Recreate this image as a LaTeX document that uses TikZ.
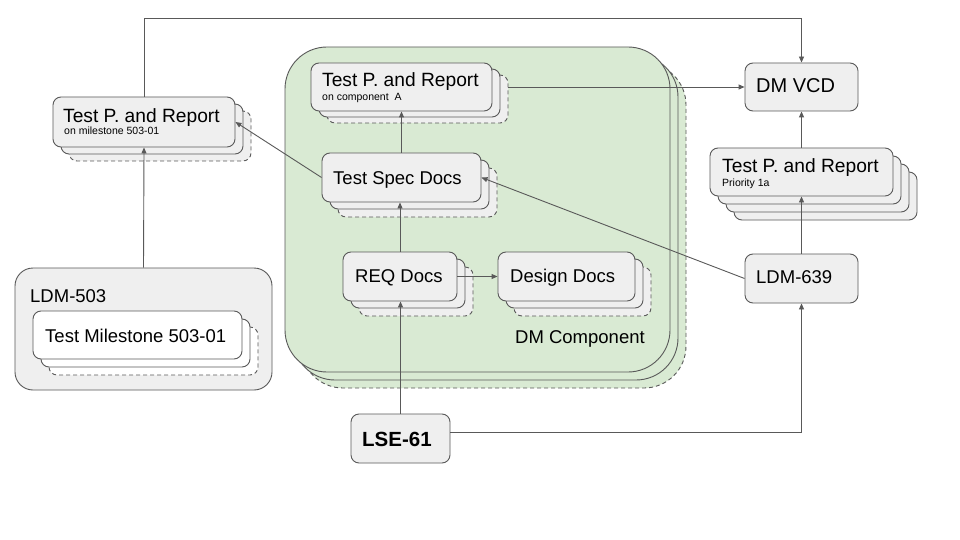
\documentclass[tikz,border=0pt]{standalone}
\usepackage{fontspec}
\setmainfont{Liberation Sans}
\usetikzlibrary{arrows.meta}
\definecolor{boxfill}{HTML}{EFEFEF}
\definecolor{lineg}{HTML}{595959}
\definecolor{greenfill}{HTML}{D9EAD3}
\begin{document}
\begin{tikzpicture}[x=1pt,y=-1pt,
 gbox/.style={draw=lineg, line width=0.9pt, fill=boxfill, rounded corners=8pt, inner sep=0pt},
 wbox/.style={gbox, fill=white},
 cbox/.style={draw=lineg, line width=0.9pt, fill=greenfill, rounded corners=42pt, inner sep=0pt},
 dsh/.style={dash pattern=on 4pt off 3pt},
 conn/.style={draw=lineg, line width=0.9pt, -{Triangle[length=6pt,width=5pt]}},
 ttl/.style={font=\fontsize{18.5}{20}\selectfont, inner sep=0pt, anchor=base west},
 ttlp/.style={font=\fontsize{19.2}{21}\selectfont, inner sep=0pt, anchor=base west},
 sub/.style={font=\fontsize{10.5}{12}\selectfont, inner sep=0pt, anchor=base west},
 ttlb/.style={font=\fontsize{20}{22}\selectfont, inner sep=0pt, anchor=base west}]
\fill[white] (0,0) rectangle (960,540);
\useasboundingbox (0,0) rectangle (960,540);

% DM component stack
\node[cbox, dsh, minimum width=385pt, minimum height=325pt] (dm3) at (493.5,225.5) {};
\node[cbox, minimum width=385pt, minimum height=325pt] (dm2) at (485.5,217.5) {};
\node[cbox, minimum width=385pt, minimum height=325pt] (dm) at (477.5,209.5) {};
\node[ttl] (dmt) at (515,343) {DM Component};

% Test P. milestone stack
\node[gbox, dsh, minimum width=182pt, minimum height=50pt] (tpm3) at (160,136) {};
\node[gbox, minimum width=182pt, minimum height=50pt] (tpm2) at (152,129) {};
\node[gbox, minimum width=182pt, minimum height=50pt] (tpm) at (144,122) {};
\node[ttlp] (tpmt) at (63,123) {Test P. and Report};
\node[sub] (tpms) at (64,135) {on milestone 503-01};

% Test P. component A stack
\node[gbox, dsh, minimum width=181pt, minimum height=48pt] (ca3) at (417.5,99) {};
\node[gbox, minimum width=181pt, minimum height=48pt] (ca2) at (409.5,93) {};
\node[gbox, minimum width=181pt, minimum height=48pt] (ca) at (401.5,87) {};
\node[ttlp] (cat) at (322,87) {Test P. and Report};
\node[sub] (cas) at (322,101) {on component\ \ A};

% Test Spec Docs stack
\node[gbox, dsh, minimum width=159pt, minimum height=49pt] (tsd3) at (417.5,192.5) {};
\node[gbox, minimum width=159pt, minimum height=49pt] (tsd2) at (409.5,184.5) {};
\node[gbox, minimum width=159pt, minimum height=49pt] (tsd) at (401.5,177.5) {};
\node[ttl] (tsdt) at (333,185) {Test Spec Docs};

% REQ Docs stack
\node[gbox, dsh, minimum width=114pt, minimum height=49pt] (req3) at (416,291.5) {};
\node[gbox, minimum width=114pt, minimum height=49pt] (req2) at (408,283.5) {};
\node[gbox, minimum width=114pt, minimum height=49pt] (req) at (400,276.5) {};
\node[ttl] (reqt) at (355,282) {REQ Docs};

% Design Docs stack
\node[gbox, dsh, minimum width=137pt, minimum height=49pt] (des3) at (582.5,291.5) {};
\node[gbox, minimum width=137pt, minimum height=49pt] (des2) at (574.5,283.5) {};
\node[gbox, minimum width=137pt, minimum height=49pt] (des) at (566.5,276.5) {};
\node[ttl] (dest) at (510,282) {Design Docs};

% LDM-503
\node[gbox, rounded corners=18pt, minimum width=257pt, minimum height=122pt] (l503) at (143.5,329) {};
\node[ttl] (l503t) at (30,302) {LDM-503};
\node[wbox, dsh, minimum width=209pt, minimum height=48pt] (tms3) at (153.5,351) {};
\node[wbox, minimum width=209pt, minimum height=48pt] (tms2) at (145.5,343) {};
\node[wbox, minimum width=209pt, minimum height=48pt] (tms) at (137.5,335) {};
\node[ttl] (tmst) at (45,342) {Test Milestone 503-01};

% DM VCD
\node[gbox, minimum width=113pt, minimum height=48pt] (vcd) at (801.5,87) {};
\node[ttlb] (vcdt) at (756,93) {DM VCD};

% Priority 1a stack
\node[gbox, minimum width=183pt, minimum height=48pt] (pr4) at (825.5,196) {};
\node[gbox, minimum width=183pt, minimum height=48pt] (pr3) at (817.5,188) {};
\node[gbox, minimum width=183pt, minimum height=48pt] (pr2) at (809.5,180) {};
\node[gbox, minimum width=183pt, minimum height=48pt] (pr) at (801.5,172) {};
\node[ttlp] (prt) at (722,172) {Test P. and Report};
\node[sub] (prs) at (722,186) {Priority 1a};

% LDM-639
\node[gbox, minimum width=113pt, minimum height=49pt] (l639) at (801.5,278.5) {};
\node[ttl] (l639t) at (756,283) {LDM-639};

% LSE-61
\node[gbox, minimum width=99pt, minimum height=49pt] (lse) at (400.5,438.5) {};
\node[ttlb, font=\fontsize{20.5}{22}\selectfont\bfseries] (lset) at (362,446) {LSE-61};

% connectors
\draw[conn] (tpm.north) -- ++(0,-78) -| (vcd.north);
\draw[conn] (l503.north) -- (tpm.south);
\draw[conn] (tsd.west) -- (tpm.east);
\draw[conn] (tsd.north) -- (ca.south);
\draw[conn] (req.north) -- (req.north |- tsd.south);
\draw[conn] (req.east) -- (des.west);
\draw[conn] (lse.north) -- (lse.north |- req.south);
\draw[conn] ([yshift=6pt]lse.east) -| (l639.south);
\draw[conn] (l639.west) -- (tsd.east);
\draw[conn] (l639.north) -- (pr.south);
\draw[conn] (pr.north) -- (vcd.south);
\draw[conn] (ca3.east |- vcd.west) -- (vcd.west);
\end{tikzpicture}
\end{document}
